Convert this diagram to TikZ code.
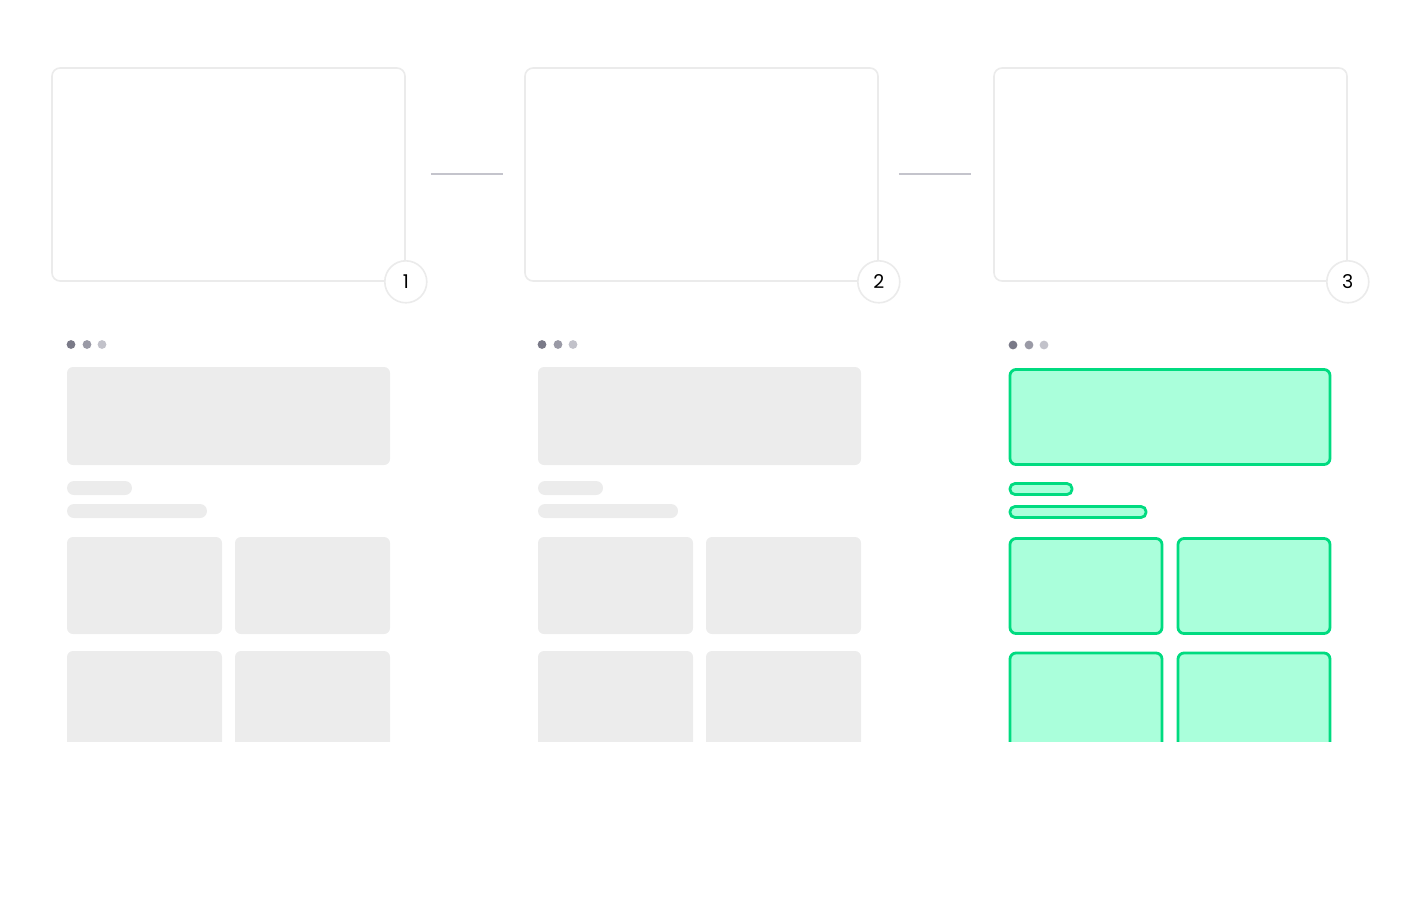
\documentclass[tikz,border=0pt]{standalone}
\usepackage{fontspec}
\setmainfont{Poppins}
\begin{document}
\definecolor{cardline}{HTML}{EBEBEB}
\definecolor{skel}{HTML}{ECECEC}
\definecolor{link}{HTML}{C4C4CC}
\definecolor{dotA}{HTML}{7A7A88}
\definecolor{dotB}{HTML}{9A9AA6}
\definecolor{dotC}{HTML}{C2C2CA}
\definecolor{mint}{HTML}{AAFFDB}
\definecolor{mintline}{HTML}{00DB80}
\begin{tikzpicture}[x=1pt,y=-1pt,
  card/.style={draw=cardline,line width=1.6pt,rounded corners=8pt,fill=white,
    minimum width=353pt,minimum height=213pt,inner sep=0pt},
  badge/.style={circle,draw=cardline,line width=1.6pt,fill=white,minimum size=42pt,
    inner sep=0pt,font=\fontsize{19}{19}\selectfont},
  linkline/.style={draw=link,line width=2pt},
  grayfill/.style={fill=skel,rounded corners=6pt},
  greenfill/.style={fill=mint,draw=mintline,line width=2.8pt,rounded corners=6pt},
  pillgray/.style={fill=skel,rounded corners=7pt},
  pillgreen/.style={fill=mint,draw=mintline,line width=2.8pt,rounded corners=5pt}]
\useasboundingbox (0,0) rectangle (1420,896);

% step cards
\node[card] (c1) at (228.5,174.5) {};
\node[card] (c2) at (701.5,174.5) {};
\node[card] (c3) at (1170.5,174.5) {};
\node[badge] (b1) at (c1.south east) {1};
\node[badge] (b2) at (c2.south east) {2};
\node[badge] (b3) at (c3.south east) {3};
\draw[linkline,shorten <=25pt,shorten >=21pt] (c1.east) -- (c2.west);
\draw[linkline,shorten <=20pt,shorten >=22pt] (c2.east) -- (c3.west);

% gray skeleton columns
\foreach \dx in {0,471}{
  \begin{scope}[xshift=\dx pt]
    \fill[dotA] (71,344.5) circle (4.4);
    \fill[dotB] (87,344.5) circle (4.4);
    \fill[dotC] (102,344.5) circle (4.4);
    \path[grayfill] (67,367) rectangle (390,465);
    \path[pillgray] (67,481) rectangle (132,495);
    \path[pillgray] (67,504) rectangle (207,518);
    \path[grayfill] (67,537) rectangle (222,634);
    \path[grayfill] (235,537) rectangle (390,634);
    \begin{scope}
      \clip (60,640) rectangle (400,741);
      \path[grayfill] (67,651) rectangle (222,760);
      \path[grayfill] (235,651) rectangle (390,760);
    \end{scope}
  \end{scope}
}

% highlighted column
\fill[dotA] (1013,345) circle (4.4);
\fill[dotB] (1029,345) circle (4.4);
\fill[dotC] (1044,345) circle (4.4);
\path[greenfill] (1010,369.5) rectangle (1330,464.5);
\path[pillgreen] (1010,483.5) rectangle (1072,494.5);
\path[pillgreen] (1010,506.5) rectangle (1146,517.5);
\path[greenfill] (1010,538.5) rectangle (1162,633.5);
\path[greenfill] (1178,538.5) rectangle (1330,633.5);
\begin{scope}
  \clip (1000,640) rectangle (1345,741);
  \path[greenfill] (1010,653) rectangle (1162,770);
  \path[greenfill] (1178,653) rectangle (1330,770);
\end{scope}
\end{tikzpicture}
\end{document}
